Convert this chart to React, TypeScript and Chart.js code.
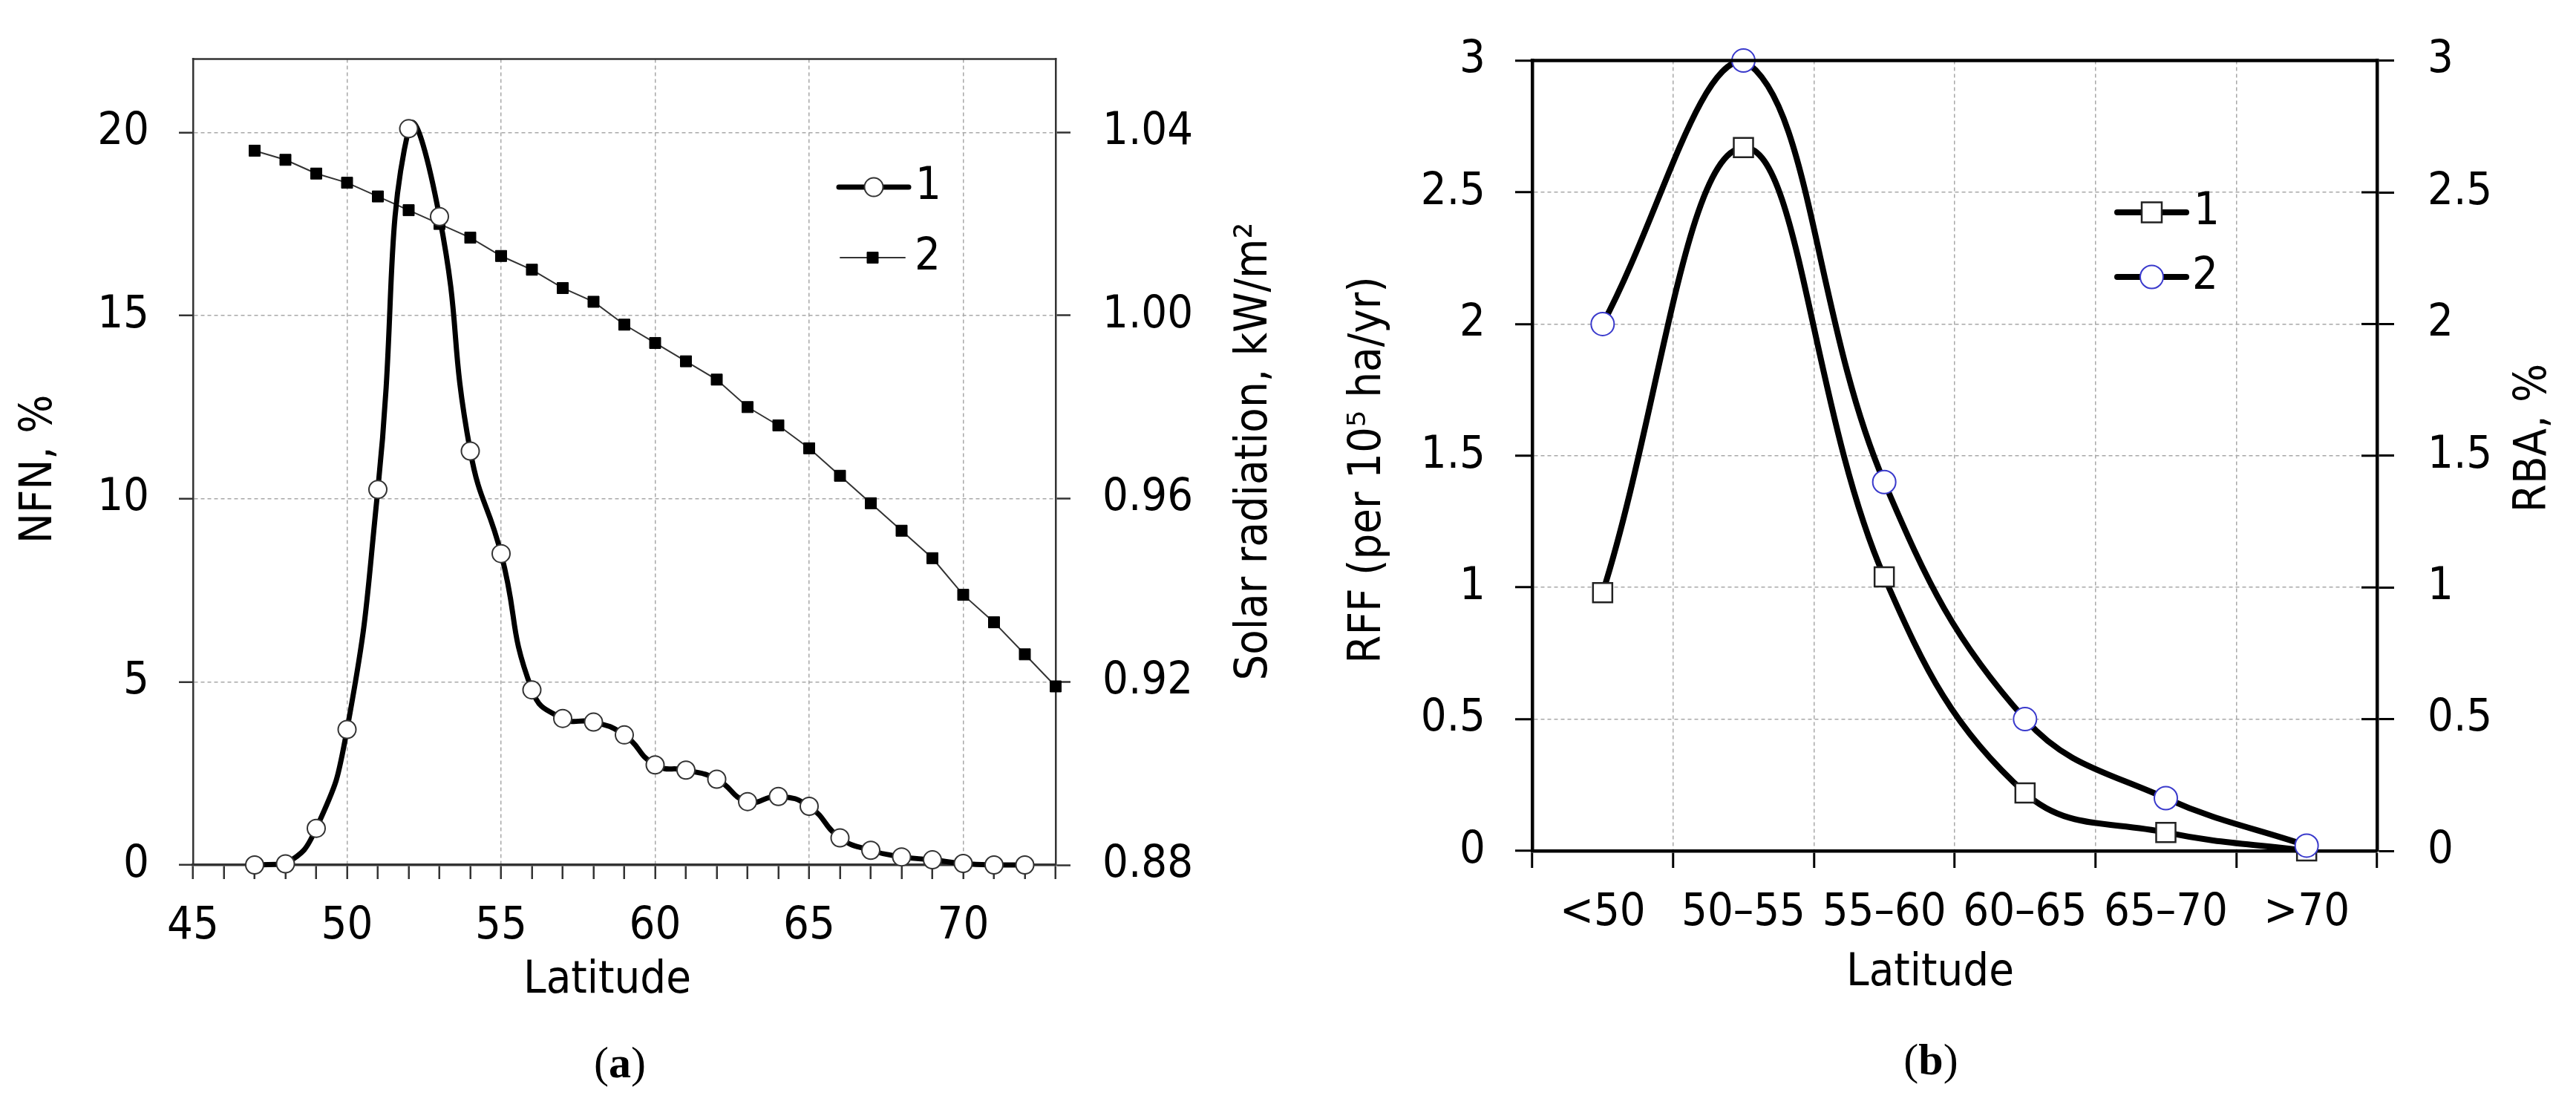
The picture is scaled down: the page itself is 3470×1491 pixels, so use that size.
import React, { useEffect, useRef } from 'react';
import { Chart, registerables } from 'chart.js';

Chart.register(...registerables);

// ---------------- (a) data ----------------
const latitudeNFN = [47, 48, 49, 50, 51, 52, 53, 54, 55, 56, 57, 58, 59, 60, 61, 62, 63, 64, 65, 66, 67, 68, 69, 70, 71, 72];
const nfnPercent = [0, 0.03, 1.0, 3.7, 10.25, 20.1, 17.7, 11.3, 8.5, 4.78, 4.0, 3.9, 3.55, 2.73, 2.59, 2.34, 1.73, 1.87, 1.6, 0.74, 0.4, 0.22, 0.14, 0.04, 0, 0];
const latitudeSolar = [47, 48, 49, 50, 51, 52, 53, 54, 55, 56, 57, 58, 59, 60, 61, 62, 63, 64, 65, 66, 67, 68, 69, 70, 71, 72, 73];
const solarRadiation = [1.036, 1.034, 1.031, 1.029, 1.026, 1.023, 1.02, 1.017, 1.013, 1.01, 1.006, 1.003, 0.998, 0.994, 0.99, 0.986, 0.98, 0.976, 0.971, 0.965, 0.959, 0.953, 0.947, 0.939, 0.933, 0.926, 0.919];
const xTicksA = [45, 46, 47, 48, 49, 50, 51, 52, 53, 54, 55, 56, 57, 58, 59, 60, 61, 62, 63, 64, 65, 66, 67, 68, 69, 70, 71, 72, 73];
const yTicksNFN = [0, 5, 10, 15, 20];
const yTicksSolar = [0.88, 0.92, 0.96, 1.0, 1.04];

// ---------------- (b) data ----------------
const latitudeBands = ['<50', '50–55', '55–60', '60–65', '65–70', '>70'];
const rffValues = [0.98, 2.67, 1.04, 0.22, 0.07, 0.0];
const rbaValues = [2.0, 3.0, 1.4, 0.5, 0.2, 0.02];
const yTicksB = [0, 0.5, 1, 1.5, 2, 2.5, 3];

const FONT = "'DejaVu Sans Condensed', 'DejaVu Sans', sans-serif";
const FS = 61;
const GRID = '#a8a8a8';
const CLEAR = 'rgba(0,0,0,0)';

function overlay(spec: any) {
  return {
    id: 'overlay' + spec.name,
    afterDraw(chart: any) {
      const ctx = chart.ctx;
      const area = chart.chartArea;
      const ox = spec.offsetX;
      ctx.save();
      // top frame line
      ctx.strokeStyle = spec.frameColor;
      ctx.lineWidth = spec.frameWidth;
      ctx.beginPath();
      ctx.moveTo(area.left - spec.frameWidth / 2, area.top);
      ctx.lineTo(area.right + spec.frameWidth / 2, area.top);
      ctx.stroke();
      // inner ticks on a right axis
      if (spec.innerTicks) {
        const s = chart.scales[spec.innerTicks.axis];
        ctx.lineWidth = spec.innerTicks.width;
        ctx.strokeStyle = spec.frameColor;
        s.ticks.forEach((t: any) => {
          const y = s.getPixelForValue(t.value);
          ctx.beginPath();
          ctx.moveTo(area.right - spec.innerTicks.len, y);
          ctx.lineTo(area.right, y);
          ctx.stroke();
        });
      }
      // titles
      ctx.fillStyle = '#000';
      ctx.font = `${FS}px ${FONT}`;
      ctx.textAlign = 'center';
      ctx.textBaseline = 'middle';
      spec.titles.forEach((t: any) => {
        ctx.save();
        ctx.translate(t.x - ox, t.y);
        if (t.rotate) ctx.rotate(-Math.PI / 2);
        ctx.fillText(t.text, 0, 0);
        ctx.restore();
      });
      // legend
      spec.legend.forEach((l: any) => {
        ctx.strokeStyle = l.lineColor;
        ctx.lineWidth = l.lineWidth;
        ctx.lineCap = 'round';
        ctx.beginPath();
        ctx.moveTo(l.x1 - ox, l.y);
        ctx.lineTo(l.x2 - ox, l.y);
        ctx.stroke();
        ctx.lineCap = 'butt';
        const cx = (l.x1 + l.x2) / 2 - ox;
        ctx.fillStyle = l.fill;
        ctx.strokeStyle = l.stroke;
        ctx.lineWidth = l.strokeWidth;
        ctx.beginPath();
        if (l.marker === 'circle') ctx.arc(cx, l.y, l.size, 0, Math.PI * 2);
        else ctx.rect(cx - l.size / 2, l.y - l.size / 2, l.size, l.size);
        ctx.fill();
        if (l.strokeWidth > 0) ctx.stroke();
        ctx.fillStyle = '#000';
        ctx.textAlign = 'left';
        ctx.textBaseline = 'middle';
        ctx.fillText(l.label, l.textX - ox, l.y);
      });
      ctx.restore();
    },
  };
}

function configA(): any {
  const font = { family: FONT, size: FS };
  return {
    type: 'line',
    data: {
      datasets: [
        {
          label: '1',
          data: latitudeNFN.map((x, i) => ({ x, y: nfnPercent[i] })),
          yAxisID: 'y',
          borderColor: '#000',
          borderWidth: 7,
          tension: 0.5,
          pointStyle: 'circle',
          pointRadius: 12,
          pointBackgroundColor: '#fff',
          pointBorderColor: '#333',
          pointBorderWidth: 2,
          clip: 40,
          order: 1,
        },
        {
          label: '2',
          data: latitudeSolar.map((x, i) => ({ x, y: solarRadiation[i] })),
          yAxisID: 'y1',
          borderColor: '#333',
          borderWidth: 2,
          tension: 0,
          pointStyle: 'rect',
          pointRadius: 10.6,
          pointBackgroundColor: '#000',
          pointBorderColor: '#000',
          pointBorderWidth: 1,
          clip: 40,
          order: 2,
        },
      ],
    },
    options: {
      responsive: false,
      animation: false,
      layout: { padding: { top: 54, left: 0, right: 0, bottom: 0 } },
      plugins: { legend: { display: false }, tooltip: { enabled: false } },
      scales: {
        x: {
          type: 'linear',
          min: 45,
          max: 73,
          afterBuildTicks: (s: any) => { s.ticks = xTicksA.map((v) => ({ value: v })); },
          afterFit: (s: any) => { s.height = 1491 - 1165; },
          ticks: {
            autoSkip: false, maxRotation: 0, padding: 28, font, color: '#000',
            callback: (v: any) => (Number(v) % 5 === 0 ? String(v) : ''),
          },
          grid: {
            color: (c: any) => (c.tick && c.tick.value % 5 === 0 && c.tick.value !== 45 ? GRID : CLEAR),
            lineWidth: 1.5, tickLength: 19, tickColor: '#333', tickWidth: 2.5,
          },
          border: { color: '#333', width: 3.5, dash: [5, 4] },
        },
        y: {
          type: 'linear',
          position: 'left',
          min: 0,
          max: 22,
          afterBuildTicks: (s: any) => { s.ticks = yTicksNFN.map((v) => ({ value: v })); },
          afterFit: (s: any) => { s.width = 260; },
          ticks: { padding: 40, font, color: '#000', callback: (v: any) => String(v) },
          grid: {
            color: (c: any) => (c.tick && c.tick.value !== 0 ? GRID : CLEAR),
            lineWidth: 1.5, tickLength: 19, tickColor: '#333', tickWidth: 2.5,
          },
          border: { color: '#333', width: 2.5, dash: [5, 4] },
        },
        y1: {
          type: 'linear',
          position: 'right',
          min: 0.88,
          max: 1.056,
          afterBuildTicks: (s: any) => { s.ticks = yTicksSolar.map((v) => ({ value: v })); },
          afterFit: (s: any) => { s.width = 1760 - 1422; },
          ticks: { padding: 43, font, color: '#000', callback: (v: any) => Number(v).toFixed(2) },
          grid: { drawOnChartArea: false, tickLength: 20, tickColor: '#333', tickWidth: 2.5 },
          border: { color: '#333', width: 2.5 },
        },
      },
    },
    plugins: [
      overlay({
        name: 'A',
        offsetX: 0,
        frameColor: '#333',
        frameWidth: 2.5,
        titles: [
          { text: 'NFN, %', x: 53, y: 632, rotate: true },
          { text: 'Solar radiation, kW/m²', x: 1690, y: 608, rotate: true },
          { text: 'Latitude', x: 818, y: 1321 },
        ],
        legend: [
          { label: '1', y: 252, x1: 1130, x2: 1224, lineWidth: 7, lineColor: '#000', marker: 'circle', size: 12.5, fill: '#fff', stroke: '#333', strokeWidth: 2, textX: 1233 },
          { label: '2', y: 347, x1: 1132, x2: 1219, lineWidth: 2, lineColor: '#333', marker: 'rect', size: 15, fill: '#000', stroke: '#000', strokeWidth: 1, textX: 1232 },
        ],
      }),
    ],
  };
}

function configB(): any {
  const font = { family: FONT, size: FS };
  return {
    type: 'line',
    data: {
      labels: latitudeBands,
      datasets: [
        {
          label: '1',
          data: rffValues,
          yAxisID: 'y',
          borderColor: '#000',
          borderWidth: 8,
          tension: 0.4,
          pointStyle: 'rect',
          pointRadius: 18.4,
          pointBackgroundColor: '#fff',
          pointBorderColor: '#222',
          pointBorderWidth: 2.5,
          clip: 40,
          order: 2,
        },
        {
          label: '2',
          data: rbaValues,
          yAxisID: 'y1',
          borderColor: '#000',
          borderWidth: 8,
          tension: 0.4,
          pointStyle: 'circle',
          pointRadius: 15.5,
          pointBackgroundColor: '#fff',
          pointBorderColor: '#3a3acc',
          pointBorderWidth: 2,
          clip: 40,
          order: 1,
        },
      ],
    },
    options: {
      responsive: false,
      animation: false,
      layout: { padding: { top: 60, left: 0, right: 0, bottom: 0 } },
      plugins: { legend: { display: false }, tooltip: { enabled: false } },
      scales: {
        x: {
          type: 'category',
          offset: true,
          afterFit: (s: any) => { s.height = 1491 - 1146; },
          ticks: { autoSkip: false, maxRotation: 0, padding: 25, font, color: '#000' },
          grid: {
            offset: true,
            color: (c: any) => (c.index === undefined || c.index === 0 || c.index >= latitudeBands.length ? CLEAR : GRID),
            lineWidth: 1.5, tickLength: 23, tickColor: '#000', tickWidth: 3,
          },
          border: { color: '#000', width: 4.5, dash: [5, 4] },
        },
        y: {
          type: 'linear',
          position: 'left',
          min: 0,
          max: 3,
          afterBuildTicks: (s: any) => { s.ticks = yTicksB.map((v) => ({ value: v })); },
          afterFit: (s: any) => { s.width = 2064 - 1760; },
          ticks: { padding: 40, font, color: '#000', callback: (v: any) => String(v) },
          grid: {
            color: (c: any) => (c.tick && c.tick.value !== 0 && c.tick.value !== 3 ? GRID : CLEAR),
            lineWidth: 1.5, tickLength: 23, tickColor: '#000', tickWidth: 3,
          },
          border: { color: '#000', width: 4.5, dash: [5, 4] },
        },
        y1: {
          type: 'linear',
          position: 'right',
          min: 0,
          max: 3,
          afterBuildTicks: (s: any) => { s.ticks = yTicksB.map((v) => ({ value: v })); },
          afterFit: (s: any) => { s.width = 3470 - 3202; },
          ticks: { padding: 45, font, color: '#000', callback: (v: any) => String(v) },
          grid: { drawOnChartArea: false, tickLength: 23, tickColor: '#000', tickWidth: 3 },
          border: { color: '#000', width: 4.5 },
        },
      },
    },
    plugins: [
      overlay({
        name: 'B',
        offsetX: 1760,
        frameColor: '#000',
        frameWidth: 4.5,
        innerTicks: { axis: 'y1', len: 21, width: 3 },
        titles: [
          { text: 'RFF (per 10⁵ ha/yr)', x: 1843, y: 633, rotate: true },
          { text: 'RBA, %', x: 3413, y: 590, rotate: true },
          { text: 'Latitude', x: 2600, y: 1311 },
        ],
        legend: [
          { label: '1', y: 286, x1: 2852, x2: 2945, lineWidth: 8, lineColor: '#000', marker: 'rect', size: 27, fill: '#fff', stroke: '#222', strokeWidth: 2.5, textX: 2955 },
          { label: '2', y: 373, x1: 2852, x2: 2945, lineWidth: 8, lineColor: '#000', marker: 'circle', size: 15.5, fill: '#fff', stroke: '#3a3acc', strokeWidth: 2, textX: 2953 },
        ],
      }),
    ],
  };
}

function captionStyle(cx: number, cy: number): React.CSSProperties {
  return {
    position: 'absolute',
    left: cx - 100,
    top: cy - 30,
    width: 200,
    height: 60,
    lineHeight: '60px',
    textAlign: 'center',
    fontFamily: "'Liberation Serif', 'Times New Roman', serif",
    fontSize: 60,
    color: '#000',
  };
}

export default function App() {
  const refA = useRef<HTMLCanvasElement>(null);
  const refB = useRef<HTMLCanvasElement>(null);
  useEffect(() => {
    const a = new Chart(refA.current as HTMLCanvasElement, configA());
    const b = new Chart(refB.current as HTMLCanvasElement, configB());
    return () => {
      a.destroy();
      b.destroy();
    };
  }, []);
  return (
    <div style={{ position: 'absolute', left: 0, top: 0, width: 3470, height: 1491, background: '#fff', overflow: 'hidden' }}>
      <canvas ref={refA} width={1760} height={1491} style={{ position: 'absolute', left: 0, top: 0, width: 1760, height: 1491 }} />
      <canvas ref={refB} width={1710} height={1491} style={{ position: 'absolute', left: 1760, top: 0, width: 1710, height: 1491 }} />
      <div style={captionStyle(835, 1431)}>(<b>a</b>)</div>
      <div style={captionStyle(2601, 1427)}>(<b>b</b>)</div>
    </div>
  );
}
